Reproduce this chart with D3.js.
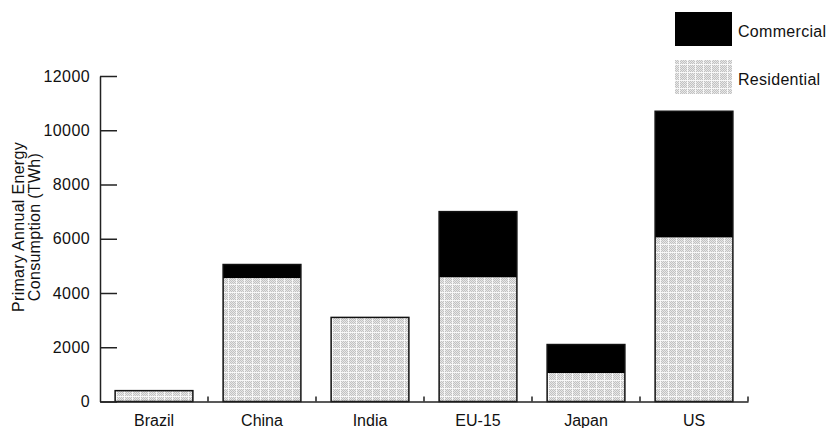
<!DOCTYPE html>
<html>
<head>
<meta charset="utf-8">
<script src="https://cdnjs.cloudflare.com/ajax/libs/d3/7.8.5/d3.min.js"></script>
<style>
  body { margin: 0; background: #fff; }
  text { font-family: "Liberation Sans", Arial, sans-serif; fill: #111; }
</style>
</head>
<body>
<div id="chart"></div>
<script>
// values (TWh)
var categories = ["Brazil", "China", "India", "EU-15", "Japan", "US"];
var residential = [400, 4550, 3100, 4580, 1050, 6050];
var commercial = [0, 500, 0, 2420, 1050, 4650];
var yTicks = [0, 2000, 4000, 6000, 8000, 10000, 12000];
var seriesNames = ["Commercial", "Residential"];

var width = 828, height = 428;

var svg = d3.select("#chart")
            .append("svg")
            .attr("width", width)
            .attr("height", height);

// dotted grey fill used for the residential part
var defs = svg.append("defs");
var pat = defs.append("pattern")
              .attr("id", "dots")
              .attr("patternUnits", "userSpaceOnUse")
              .attr("width", 8)
              .attr("height", 8);
pat.append("rect").attr("width", 8).attr("height", 8).attr("fill", "#e8e8e8");
for (var i = 0; i < 8; i++) {
    for (var j = 0; j < 8; j++) {
        if ((i + j) % 2 == 0 && i != 4 && j != 4) {
            pat.append("rect").attr("x", i).attr("y", j)
               .attr("width", 1).attr("height", 1).attr("fill", "#c2c2c2");
        }
    }
}
pat.append("rect").attr("x", 4).attr("y", 0).attr("width", 1).attr("height", 8).attr("fill", "#f8f8f8");
pat.append("rect").attr("x", 0).attr("y", 4).attr("width", 8).attr("height", 1).attr("fill", "#f8f8f8");

var data = categories.map(function(c, i) {
    return {name: c, Residential: residential[i], Commercial: commercial[i]};
});

var stack = d3.stack().keys(["Residential", "Commercial"]);
var layers = stack(data);

var x = d3.scaleBand()
          .domain(categories)
          .range([100, 748])
          .paddingInner(0.28)
          .paddingOuter(0.14);

var y = d3.scaleLinear()
          .domain([0, 12000])
          .range([401.5, 76]);

var fills = {Residential: "url(#dots)", Commercial: "#000"};

svg.append("g")
   .selectAll("g")
   .data(layers)
   .enter()
   .append("g")
   .attr("fill", function(d) { return fills[d.key]; })
   .selectAll("rect")
   .data(function(d) { return d; })
   .enter()
   .append("rect")
   .attr("x", function(d) { return x(d.data.name); })
   .attr("y", function(d) { return y(d[1]); })
   .attr("width", x.bandwidth())
   .attr("height", function(d) { return y(d[0]) - y(d[1]); });

// outline round each whole bar
svg.append("g")
   .selectAll("rect")
   .data(data)
   .enter()
   .append("rect")
   .attr("x", function(d) { return x(d.name); })
   .attr("y", function(d) { return y(d.Residential + d.Commercial); })
   .attr("width", x.bandwidth())
   .attr("height", function(d) { return y(0) - y(d.Residential + d.Commercial); })
   .attr("fill", "none")
   .attr("stroke", "#111")
   .attr("stroke-width", 1.5);

// y axis, ticks pointing into the plot
var yAxis = svg.append("g")
   .attr("transform", "translate(100,0)")
   .call(d3.axisLeft(y).tickValues(yTicks).tickFormat(d3.format("d"))
           .tickSize(-17).tickSizeOuter(0).tickPadding(10));
yAxis.select(".domain").attr("stroke", "#222").attr("stroke-width", 1.5);
yAxis.selectAll(".tick line").attr("stroke", "#222").attr("stroke-width", 1.5);
yAxis.selectAll("text")
     .attr("x", -10)
     .style("font-size", "16px")
     .style("letter-spacing", "0.4px")
     .style("font-family", "Liberation Sans, Arial, sans-serif")
     .attr("fill", "#111");

// x axis with labels under the bars
var xAxis = svg.append("g")
   .attr("transform", "translate(0," + y(0) + ")")
   .call(d3.axisBottom(x).tickSize(0).tickPadding(13));
xAxis.select(".domain").attr("stroke", "#222").attr("stroke-width", 1.5);
xAxis.selectAll("text")
     .style("font-size", "16px")
     .style("font-family", "Liberation Sans, Arial, sans-serif")
     .attr("fill", "#111");

// small ticks between the categories
var step = x.step();
svg.append("g")
   .selectAll("line")
   .data(categories)
   .enter()
   .append("line")
   .attr("x1", function(d) { return x(d) + x.bandwidth() + step * x.paddingInner() / 2; })
   .attr("x2", function(d) { return x(d) + x.bandwidth() + step * x.paddingInner() / 2; })
   .attr("y1", y(0))
   .attr("y2", y(0) - 5)
   .attr("stroke", "#222")
   .attr("stroke-width", 1.5);

// y label, two lines
var ylab = svg.append("text")
   .attr("transform", "translate(24,227) rotate(-90)")
   .attr("text-anchor", "middle")
   .style("font-size", "16px")
   .style("letter-spacing", "0.3px");
ylab.append("tspan").attr("x", 0).attr("dy", 0).text("Primary Annual Energy");
ylab.append("tspan").attr("x", 0).attr("dy", 16).text("Consumption (TWh)");

// legend
var legend = svg.selectAll(".legend")
   .data(seriesNames)
   .enter()
   .append("g")
   .attr("class", "legend")
   .attr("transform", function(d, i) { return "translate(675," + (12 + i * 48) + ")"; });

legend.append("rect")
      .attr("width", 57)
      .attr("height", 34)
      .attr("fill", function(d) { return fills[d]; });

legend.append("text")
      .attr("x", 63)
      .attr("y", 25)
      .style("font-size", "16px")
      .style("letter-spacing", "0.3px")
      .text(function(d) { return d; });
</script>
</body>
</html>
